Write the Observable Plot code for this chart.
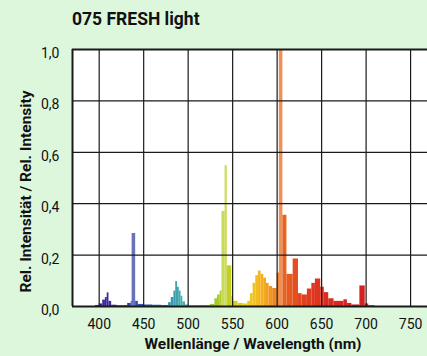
<!DOCTYPE html>
<html><head><meta charset="utf-8">
<script src="https://cdn.jsdelivr.net/npm/d3@7"></script>
<script src="https://cdn.jsdelivr.net/npm/@observablehq/plot@0.6"></script>
<style>
html,body{margin:0;padding:0;background:#ddf7dd;width:427px;height:356px;overflow:hidden;font-family:Roboto,sans-serif}
#title{position:relative;height:36px}
#title span{position:absolute;left:72px;top:11px;font:bold 17.5px/17.5px Roboto,sans-serif;color:#111;white-space:nowrap}
</style></head><body>
<div id="title"><span></span></div>
<div id="chart"></div>
<script>
const title = "075 FRESH light";
const xLabel = "Wellenlänge / Wavelength (nm)";
const yLabel = "Rel. Intensität / Rel. Intensity";
const xTicks = [400, 450, 500, 550, 600, 650, 700, 750];
const yTicks = [0, 0.2, 0.4, 0.6, 0.8, 1.0];

// spectrum as steps: interval i spans edges[i]..edges[i+1]
const edges = [396,400,404,407,409,411,414,420,432,436,437,441,444,450,460,470,478,481,484,486,488,490,492,494,497,500,515,525,530,533,536,538,541.5,544,549,551,556,562,567,570,573,576,579,582,585,588,591,595,600,602.5,606.5,611,618,624,628,634,639,643,649,653,658,664,675,679,684,693,699,703,710];
const intensity = [0.004,0.01,0.025,0.035,0.053,0.02,0.005,0.003,0.012,0.02,0.284,0.02,0.008,0.006,0.005,0.004,0.015,0.035,0.06,0.097,0.075,0.06,0.04,0.018,0.006,0.003,0.004,0.008,0.03,0.045,0.06,0.37,0.548,0.158,0.04,0.02,0.012,0.01,0.02,0.05,0.09,0.12,0.138,0.125,0.11,0.09,0.078,0.07,0.13,1.0,0.355,0.125,0.185,0.05,0.045,0.068,0.09,0.107,0.075,0.054,0.03,0.02,0.026,0.012,0.006,0.08,0.01,0.003];

const colorWavelengths = [380,405,440,470,490,510,530,545,565,580,595,605,630,660,710];
const colorValues = ["#4a2a90","#3a2a9a","#3545a5","#3080b0","#40a8b0","#60c090","#a0c830","#c0d020","#e8d020","#f5b820","#f09020","#e86a20","#e04020","#d82a20","#d02020"];

document.querySelector("#title span").textContent = title;

const spectrum = intensity.map((v, i) => ({x1: edges[i], x2: edges[i + 1], value: v, mid: (edges[i] + edges[i + 1]) / 2}));
const fmt = d => d.toFixed(1).replace(".", ",");
const isSpike = d => d.x2 - d.x1 <= 4 && d.value > 0.2;

const chart = Plot.plot({
  width: 427,
  height: 320,
  marginLeft: 72,
  marginRight: 0,
  marginTop: 13,
  marginBottom: 50,
  style: {background: "transparent", fontFamily: "Roboto, sans-serif", fontSize: "14px", color: "#111"},
  x: {domain: [370, 769]},
  y: {domain: [0, 1]},
  color: {type: "linear", domain: colorWavelengths, range: colorValues, clamp: true},
  marks: [
    Plot.frame({fill: "white", stroke: null}),
    Plot.rectY(spectrum, {x1: "x1", x2: "x2", y: "value", fill: "mid", fillOpacity: d => isSpike(d) ? 0.75 : 1, clip: true, inset: 0}),
    Plot.ruleX(xTicks, {stroke: "#1a1a1a", strokeWidth: 1.2}),
    Plot.ruleY(yTicks.slice(1, -1), {stroke: "#1a1a1a", strokeWidth: 1.2}),
    Plot.ruleY([0, 1], {stroke: "#1a1a1a", strokeWidth: 2}),
    Plot.ruleX([370], {stroke: "#1a1a1a", strokeWidth: 2}),
    Plot.axisX({ticks: xTicks, tickSize: 0, tickPadding: 13, label: null, tickFormat: d => String(d)}),
    Plot.axisY({ticks: yTicks, tickSize: 0, tickPadding: 13, label: null, tickFormat: fmt, dy: 4}),
    Plot.text([xLabel], {frameAnchor: "bottom", text: d => d, dx: 3, dy: 38, lineAnchor: "middle", textAnchor: "middle", fontWeight: "bold", fontSize: 15.5}),
    Plot.text([yLabel], {frameAnchor: "left", text: d => d, rotate: -90, dx: -46, dy: 13.5, lineAnchor: "middle", textAnchor: "middle", fontWeight: "bold", fontSize: 15.5})
  ]
});
document.getElementById("chart").appendChild(chart);
</script>
</body></html>
